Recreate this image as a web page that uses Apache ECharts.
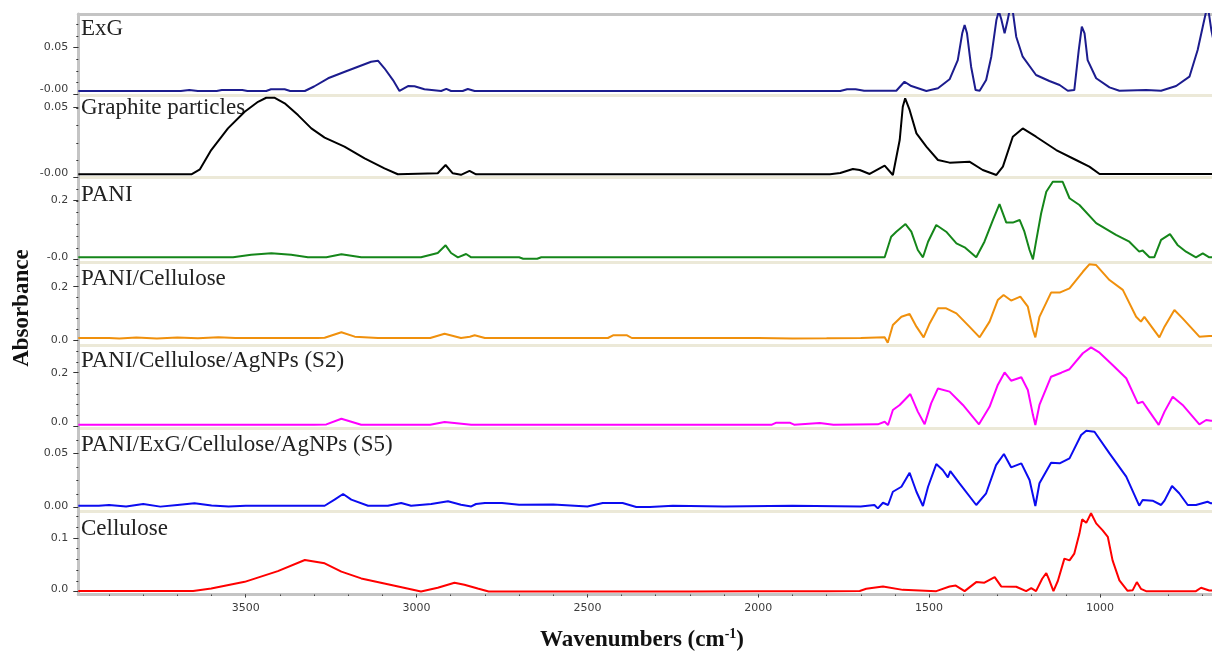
<!DOCTYPE html>
<html><head><meta charset="utf-8">
<script src="https://cdn.jsdelivr.net/npm/echarts@6/dist/echarts.min.js"></script>
<style>html,body{margin:0;padding:0;background:#fff}#c{width:1212px;height:652px}</style>
</head><body><div id="c"></div>
<script>
// ---------- data (wavenumber cm-1, absorbance) ----------
const sampleNames = ['ExG','Graphite particles','PANI','PANI/Cellulose','PANI/Cellulose/AgNPs (S2)','PANI/ExG/Cellulose/AgNPs (S5)','Cellulose'];

const exg = [[3990,0.0027],[3690,0.0027],[3665,0.0037],[3640,0.0027],[3585,0.0027],[3570,0.0037],[3510,0.0037],[3495,0.0027],[3440,0.0027],[3426,0.0045],[3386,0.0045],[3370,0.0027],[3327,0.0027],[3300,0.0075],[3259,0.0163],[3210,0.0233],[3133,0.034],[3113,0.0351],[3094,0.027],[3069,0.0144],[3050,0.0027],[3025,0.008],[3006,0.0077],[2977,0.0045],[2928,0.0027],[2913,0.005],[2899,0.0027],[2865,0.0027],[2850,0.0048],[2830,0.0027],[1760,0.0027],[1740,0.0045],[1715,0.0045],[1690,0.0030],[1645,0.003],[1596,0.003],[1572,0.0126],[1552,0.008],[1508,0.0027],[1474,0.0056],[1440,0.0152],[1416,0.0358],[1403,0.0644],[1396,0.0733],[1389,0.0644],[1377,0.0287],[1364,0.0037],[1352,0.003],[1333,0.0144],[1318,0.0394],[1303,0.0786],[1296,0.088],[1289,0.08],[1279,0.0644],[1270,0.0786],[1265,0.088],[1255,0.088],[1245,0.0608],[1226,0.0394],[1187,0.0198],[1148,0.0134],[1118,0.0091],[1094,0.003],[1075,0.0037],[1062,0.0465],[1053,0.0715],[1045,0.0644],[1036,0.0358],[1011,0.0163],[972,0.0066],[943,0.003],[865,0.0037],[821,0.003],[777,0.008],[738,0.018],[714,0.0465],[697,0.075],[689,0.088],[682,0.088],[674,0.068],[665,0.052]];

const graphite = [[3990,0.0016],[3659,0.0016],[3634,0.0052],[3601,0.0191],[3552,0.0347],[3503,0.0467],[3464,0.0539],[3440,0.0568],[3415,0.0568],[3386,0.0528],[3347,0.0443],[3308,0.0347],[3269,0.028],[3211,0.0215],[3152,0.0131],[3094,0.0059],[3055,0.0016],[2938,0.0023],[2915,0.0083],[2894,0.0023],[2870,0.0012],[2845,0.004],[2826,0.0016],[1790,0.0016],[1760,0.0025],[1723,0.0054],[1703,0.0047],[1674,0.0018],[1630,0.0078],[1606,0.0011],[1586,0.0263],[1577,0.0503],[1570,0.0564],[1557,0.048],[1537,0.0311],[1508,0.0215],[1474,0.0119],[1440,0.01],[1382,0.0107],[1343,0.0047],[1303,0.0011],[1284,0.0071],[1255,0.0287],[1226,0.0347],[1187,0.0287],[1128,0.0191],[1070,0.0119],[1031,0.0071],[1001,0.0018],[650,0.0018]];

const pani = [[3990,0.0068],[3537,0.0068],[3484,0.0157],[3425,0.0204],[3367,0.0155],[3318,0.0068],[3264,0.0068],[3220,0.017],[3162,0.0068],[2987,0.0068],[2938,0.0215],[2915,0.0477],[2899,0.0215],[2879,0.0068],[2855,0.018],[2840,0.0068],[2700,0.0068],[2688,0.002],[2647,0.002],[2635,0.0068],[1630,0.0068],[1625,0],[1611,0.077],[1596,0.094],[1569,0.12],[1552,0.094],[1533,0.0317],[1518,0.0068],[1503,0.06],[1479,0.117],[1450,0.094],[1420,0.0545],[1396,0.0409],[1362,0.0068],[1338,0.06],[1313,0.134],[1294,0.188],[1274,0.125],[1255,0.125],[1235,0.134],[1221,0.094],[1206,0.0317],[1196,0],[1187,0.06],[1172,0.157],[1157,0.23],[1138,0.264],[1109,0.264],[1089,0.208],[1060,0.185],[1011,0.123],[953,0.083],[914,0.06],[885,0.026],[875,0.03],[855,0.0068],[841,0.0068],[821,0.066],[795,0.086],[773,0.049],[748,0.026],[719,0.0068],[699,0.0204],[680,0.0068],[650,0.0068]];

const paniCellulose = [[3990,0.0075],[3900,0.0075],[3870,0.0055],[3820,0.009],[3760,0.006],[3700,0.0095],[3640,0.0065],[3580,0.0105],[3530,0.0075],[3290,0.0075],[3269,0.0083],[3220,0.029],[3181,0.0125],[3113,0.0075],[2960,0.0075],[2918,0.0236],[2870,0.0075],[2844,0.0125],[2830,0.0175],[2800,0.0075],[2440,0.0075],[2425,0.0176],[2384,0.0176],[2370,0.0075],[2000,0.0075],[1900,0.006],[1800,0.0065],[1700,0.0075],[1630,0.01],[1621,-0.01],[1606,0.056],[1581,0.087],[1557,0.0976],[1537,0.05],[1516,0.01],[1498,0.063],[1474,0.119],[1450,0.119],[1420,0.1],[1382,0.05],[1352,0.01],[1323,0.069],[1299,0.15],[1282,0.169],[1260,0.148],[1233,0.163],[1211,0.125],[1196,0.0375],[1189,0.01],[1177,0.087],[1143,0.178],[1118,0.178],[1089,0.194],[1050,0.256],[1031,0.284],[1011,0.281],[972,0.225],[933,0.188],[894,0.087],[880,0.069],[870,0.087],[826,0.01],[811,0.05],[782,0.1126],[758,0.081],[709,0.0125],[680,0.015],[650,0.015]];

const paniCelAgS2 = [[3990,0.0049],[3300,0.0049],[3264,0.006],[3220,0.0274],[3162,0.0049],[2960,0.0049],[2918,0.015],[2840,0.0049],[1960,0.0049],[1947,0.0124],[1908,0.0124],[1895,0.0049],[1820,0.011],[1780,0.0049],[1650,0.0063],[1630,0.016],[1620,0.0037],[1606,0.06],[1586,0.079],[1555,0.12],[1533,0.054],[1513,0.0063],[1494,0.085],[1474,0.141],[1440,0.129],[1401,0.079],[1354,0.0063],[1323,0.072],[1299,0.154],[1279,0.201],[1260,0.17],[1230,0.183],[1211,0.135],[1196,0.041],[1189,0.004],[1177,0.079],[1143,0.185],[1113,0.2],[1089,0.213],[1050,0.273],[1026,0.295],[1001,0.275],[963,0.229],[923,0.179],[889,0.085],[875,0.091],[855,0.054],[828,0.004],[811,0.054],[787,0.11],[758,0.079],[709,0.0063],[689,0.0225],[675,0.02],[650,0.02]];

const paniExgCelAgS5 = [[3990,0.0018],[3930,0.0018],[3900,0.0025],[3850,0.0012],[3800,0.0035],[3750,0.001],[3700,0.0025],[3650,0.004],[3600,0.002],[3550,0.0012],[3500,0.0018],[3269,0.0018],[3240,0.0074],[3215,0.0126],[3191,0.0074],[3142,0.0018],[3084,0.0018],[3045,0.0043],[3016,0.0018],[2957,0.0034],[2908,0.0059],[2870,0.0027],[2840,0.0012],[2826,0.0034],[2800,0.0043],[2750,0.0043],[2700,0.0027],[2600,0.003],[2500,0.0012],[2455,0.0043],[2397,0.0043],[2357,0.0006],[2317,0.0006],[2250,0.0018],[2100,0.0012],[1900,0.0018],[1700,0.0012],[1660,0.0025],[1650,-0.0006],[1635,0.0046],[1620,0.0025],[1606,0.0147],[1581,0.0193],[1557,0.0322],[1537,0.0147],[1518,0.0016],[1503,0.0193],[1479,0.0402],[1460,0.0347],[1445,0.028],[1438,0.0338],[1411,0.0225],[1362,0.0025],[1333,0.0133],[1304,0.0393],[1281,0.0495],[1260,0.0372],[1230,0.0409],[1206,0.0255],[1189,0.0016],[1177,0.0225],[1143,0.0414],[1118,0.0409],[1089,0.0455],[1055,0.067],[1040,0.0709],[1016,0.07],[972,0.05],[923,0.0286],[885,0.0019],[875,0.0071],[846,0.0065],[821,0.0025],[811,0.0065],[789,0.02],[768,0.0133],[743,0.0025],[719,0.0025],[685,0.0055],[675,0.004],[650,0.004]];

const cellulose = [[3990,0.001],[3654,0.001],[3601,0.0056],[3503,0.018],[3406,0.038],[3327,0.0588],[3269,0.0525],[3220,0.037],[3162,0.0244],[3064,0.0107],[2987,0],[2938,0.0069],[2889,0.0163],[2860,0.0125],[2821,0.0056],[2789,0],[2200,0],[2000,0.0006],[1800,0.0006],[1703,0.001],[1684,0.005],[1635,0.0094],[1577,0.003],[1479,0.0006],[1440,0.0094],[1422,0.011],[1396,0.0006],[1362,0.0175],[1338,0.0163],[1308,0.0268],[1289,0.0094],[1245,0.0088],[1216,0.0006],[1201,0.0063],[1187,0.0006],[1169,0.0238],[1157,0.0344],[1150,0.0238],[1136,0.0006],[1123,0.02],[1104,0.0613],[1089,0.058],[1075,0.0707],[1060,0.108],[1052,0.1345],[1040,0.128],[1026,0.1458],[1011,0.127],[992,0.114],[977,0.102],[963,0.058],[943,0.0206],[919,0.0013],[904,0.0025],[892,0.0175],[880,0.005],[865,0.0006],[719,0.0006],[704,0.007],[680,0.0019],[650,0.0019]];

// ---------- axes / ticks ----------
const xMin = 672, xMax = 3990;
const xTickLabels = [1000, 1500, 2000, 2500, 3000, 3500];
const xMinorStep = 100;
const yRanges = [[-0.0016,0.0851],[-0.00087,0.0588],[-0.0092,0.278],[-0.01876,0.2927],[-0.0101,0.3039],[-0.00368,0.0728],[-0.00563,0.1488]];
const yTickLabels = [[-0.0009,0.05],[-0.00087,0.05],[-0.001,0.2],[0,0.2],[0,0.2],[0,0.05],[0,0.1]];
const yMinorStep = [0.0125,0.0125,0.04,0.04,0.04,0.0125,0.02];
const yDecimals = [2,2,1,1,1,2,1];

// ---------- layout / style ----------
const seriesData = [exg, graphite, pani, paniCellulose, paniCelAgS2, paniExgCelAgS5, cellulose];
const colors = ['#1c1c8e','#000000','#15861a','#f0900c','#ff00ff','#0c0cf0','#ff0000'];
const edges = [14, 95, 177.7, 262, 345, 428.7, 511.7, 594.5];
const bottomLabelLift = [5, 4.4, 2, 0, 4.3, 2, 2.7];
const nameY = [29.4, 107.8, 195.4, 278.8, 361.4, 445.2, 529.4];
const labelFont = 'DejaVu Sans';
const labelColor = '#3c3c3c';

const grids = [], xAxes = [], yAxes = [], series = [], graphics = [];
const minorX = [];
for (let v = 700; v <= 3900; v += xMinorStep) minorX.push(v);

for (let i = 0; i < 7; i++) {
  grids.push({ left: 78.3, right: 0, top: edges[i], height: edges[i+1] - edges[i], containLabel: false, outerBoundsMode: 'none' });
  const last = i === 6;
  xAxes.push({
    type: 'value', gridIndex: i, inverse: true, min: xMin, max: xMax, position: 'bottom',
    axisLine: { show: true, onZero: false, lineStyle: { color: last ? '#c4c4c4' : '#ece9d8', width: 3 } },
    axisTick: { show: last, customValues: xTickLabels, length: 3, lineStyle: { color: '#333', width: 1 } },
    axisLabel: { show: last, customValues: xTickLabels, margin: 8, fontFamily: labelFont, fontSize: 11, color: labelColor,
      formatter: (v) => String(v) },
    splitLine: { show: false }, z: 0
  });
  const maj = yTickLabels[i];
  const [mn, mx] = yRanges[i];
  const dec = yDecimals[i];
  const lift = bottomLabelLift[i];
  yAxes.push({
    type: 'value', gridIndex: i, min: mn, max: mx, position: 'left',
    axisLine: { show: true, onZero: false, lineStyle: { color: '#c4c4c4', width: 3 } },
    axisTick: { show: true, customValues: maj, length: 5, lineStyle: { color: '#333', width: 1 } },
    axisLabel: {
      show: true, customValues: maj, margin: 10,
      fontFamily: labelFont, fontSize: 11, color: labelColor,
      formatter: (v) => (v === maj[0] ? '{lo|' : '{n|') + v.toFixed(dec) + '}',
      rich: {
        n: { fontFamily: labelFont, fontSize: 11, color: labelColor },
        lo: { fontFamily: labelFont, fontSize: 11, color: labelColor, padding: [0, 0, lift * 2, 0] }
      }
    },
    splitLine: { show: false }, z: 2
  });
  series.push({
    type: 'line', name: sampleNames[i], xAxisIndex: i, yAxisIndex: i,
    data: seriesData[i], showSymbol: false, symbol: 'none', clip: true,
    lineStyle: { color: colors[i], width: 2 }, itemStyle: { color: colors[i] },
    animation: false, z: 3
  });
  graphics.push({ type: 'text', x: 81, y: nameY[i], silent: true,
    style: { text: sampleNames[i], font: '23px "Liberation Serif"', fill: '#222', align: 'left', verticalAlign: 'middle' } });
}
// top border of plot frame
xAxes.push({ type: 'value', gridIndex: 0, inverse: true, min: xMin, max: xMax, position: 'top',
  axisLine: { show: true, onZero: false, lineStyle: { color: '#c4c4c4', width: 3 } }, axisTick: { show: false }, axisLabel: { show: false }, splitLine: { show: false } });
// minor x ticks
xAxes.push({ type: 'value', gridIndex: 6, inverse: true, min: xMin, max: xMax, position: 'bottom',
  axisLine: { show: false, onZero: false }, axisTick: { show: true, customValues: minorX, length: 1.5, lineStyle: { color: '#444' } },
  axisLabel: { show: false }, splitLine: { show: false } });
// minor y ticks
for (let i = 0; i < 7; i++) {
  const maj = yTickLabels[i];
  const [mn, mx] = yRanges[i];
  const minors = [];
  for (let k = 1; maj[0] + k * yMinorStep[i] <= mx; k++) minors.push(+(maj[0] + k * yMinorStep[i]).toFixed(6));
  yAxes.push({ type: 'value', gridIndex: i, min: mn, max: mx, position: 'left', offset: 0,
    axisLine: { show: false, onZero: false }, axisTick: { show: true, customValues: minors, length: 2, lineStyle: { color: '#333' } },
    axisLabel: { show: false }, splitLine: { show: false }, z: 2 });
}

graphics.push({ type: 'text', x: 22, y: 308, rotation: Math.PI / 2, silent: true,
  style: { text: 'Absorbance', font: 'bold 23px "Liberation Serif"', fill: '#111', align: 'center', verticalAlign: 'middle' } });
graphics.push({ type: 'text', x: 642, y: 640, silent: true,
  style: { text: 'Wavenumbers (cm{sup|-1})', font: 'bold 23px "Liberation Serif"', fill: '#111', align: 'center', verticalAlign: 'middle',
    rich: { sup: { fontFamily: 'Liberation Serif', fontWeight: 'bold', fontSize: 14, fill: '#111', padding: [0, 0, 12, 0] } } } });

const chart = echarts.init(document.getElementById('c'), null, { renderer: 'canvas' });
chart.setOption({
  animation: false,
  backgroundColor: '#ffffff',
  grid: grids, xAxis: xAxes, yAxis: yAxes, series: series, graphic: graphics
});
</script></body></html>
